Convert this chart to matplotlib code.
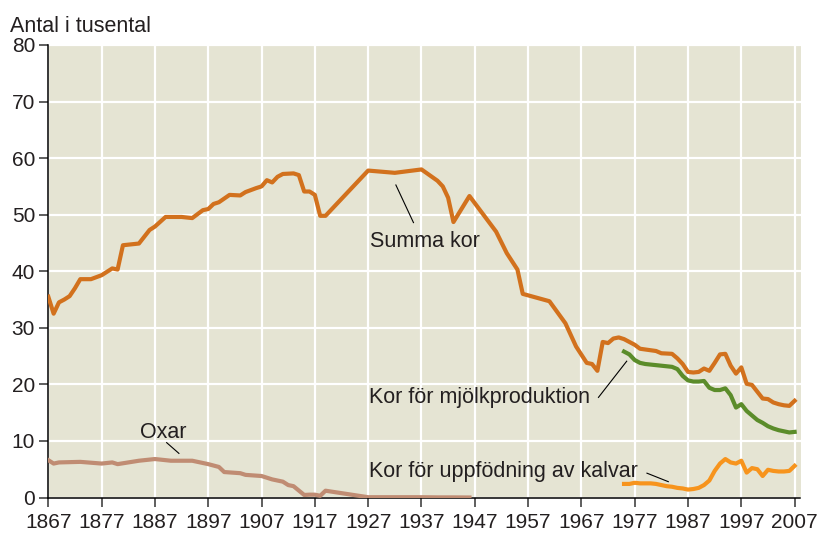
import matplotlib
matplotlib.use("Agg")
import matplotlib.pyplot as plt

plt.rcParams["font.family"] = ["Liberation Sans", "DejaVu Sans"]

# antal djur i tusental
summa_years = [1867, 1868, 1869, 1870, 1871, 1872, 1873, 1875, 1877, 1879, 1880,
               1881, 1884, 1886, 1887, 1889, 1892, 1894, 1896, 1897, 1898, 1899,
               1901, 1903, 1904, 1906, 1907, 1908, 1909, 1910, 1911, 1913, 1914,
               1915, 1916, 1917, 1918, 1919, 1927, 1932, 1937, 1940, 1941, 1942,
               1943, 1946, 1951, 1953, 1955, 1956, 1961, 1964, 1966, 1968, 1969,
               1970, 1971, 1972, 1973, 1974, 1975, 1977, 1978, 1981, 1982, 1984,
               1985, 1986, 1987, 1988, 1989, 1990, 1991, 1992, 1993, 1994, 1995,
               1996, 1997, 1998, 1999, 2000, 2001, 2002, 2003, 2004, 2005, 2006,
               2007]
summa_kor = [35.5, 32.5, 34.5, 35.0, 35.6, 37.0, 38.6, 38.6, 39.3, 40.5, 40.3,
             44.6, 44.9, 47.3, 47.9, 49.6, 49.6, 49.4, 50.8, 51.0, 51.9, 52.2,
             53.5, 53.4, 54.0, 54.7, 55.0, 56.1, 55.7, 56.7, 57.2, 57.3, 57.0,
             54.1, 54.1, 53.5, 49.8, 49.8, 57.8, 57.4, 58.0, 56.0, 55.0, 53.0,
             48.7, 53.3, 47.0, 43.2, 40.3, 36.0, 34.7, 30.8, 26.7, 23.8, 23.6,
             22.4, 27.5, 27.3, 28.1, 28.3, 28.0, 27.0, 26.3, 25.9, 25.5, 25.4,
             24.6, 23.6, 22.2, 22.1, 22.2, 22.8, 22.4, 23.8, 25.3, 25.4, 23.3,
             21.9, 23.0, 20.1, 19.9, 18.7, 17.5, 17.4, 16.8, 16.5, 16.3, 16.2,
             17.1]

mjolk_years = list(range(1975, 2008))
mjolk = [25.8, 25.3, 24.3, 23.8, 23.6, 23.5, 23.4, 23.3, 23.2, 23.1, 22.7,
         21.5, 20.7, 20.5, 20.5, 20.6, 19.4, 19.0, 19.0, 19.3, 18.1, 15.9,
         16.5, 15.3, 14.5, 13.7, 13.2, 12.6, 12.2, 11.9, 11.7, 11.5, 11.6]

kalv_years = list(range(1975, 2008))
kalvar = [2.4, 2.4, 2.6, 2.5, 2.5, 2.5, 2.4, 2.2, 2.0, 1.9, 1.7,
          1.6, 1.4, 1.5, 1.7, 2.2, 3.0, 4.7, 6.0, 6.8, 6.2, 6.0,
          6.5, 4.4, 5.2, 5.0, 3.8, 4.9, 4.7, 4.6, 4.6, 4.7, 5.6]

oxar_years = [1867, 1868, 1869, 1873, 1877, 1879, 1880, 1884, 1887, 1890, 1894,
              1897, 1899, 1900, 1903, 1904, 1907, 1909, 1911, 1912, 1913, 1915,
              1916, 1917, 1918, 1919, 1927, 1932, 1937, 1940, 1943, 1946]
oxar = [6.6, 6.0, 6.2, 6.3, 6.0, 6.2, 5.9, 6.5, 6.8, 6.5, 6.5,
        5.9, 5.4, 4.5, 4.3, 4.0, 3.8, 3.2, 2.8, 2.2, 2.0, 0.45,
        0.5, 0.5, 0.3, 1.2, 0.05, 0.05, 0.05, 0.02, 0.02, 0.0]

x_ticks = list(range(1867, 2008, 10))
y_ticks = list(range(0, 81, 10))

bg = "#E5E4D3"
txt = "#231F20"

fig = plt.figure(figsize=(8.2, 5.34), dpi=100)
ax = fig.add_axes([48.3 / 820, 1 - 497.5 / 534, (800.5 - 48.3) / 820, (497.5 - 45) / 534])
ax.set_facecolor(bg)

ax.plot(oxar_years, oxar, color="#C08C73", lw=3, solid_joinstyle="round", zorder=3)
ax.plot(kalv_years, kalvar, color="#F7941D", lw=3, solid_joinstyle="round", zorder=3)
ax.plot(mjolk_years, mjolk, color="#5B8C2A", lw=3, solid_joinstyle="round", zorder=3)
ax.plot(summa_years, summa_kor, color="#D2711D", lw=3, solid_joinstyle="round", zorder=4)

ax.set_xlim(1867, 2008.1)
ax.set_ylim(0, 80)
ax.set_xticks(x_ticks)
ax.set_yticks(y_ticks)
ax.grid(True, color="white", lw=1.6)
ax.set_axisbelow(True)

for s in ["top", "right"]:
    ax.spines[s].set_visible(False)
for s in ["left", "bottom"]:
    ax.spines[s].set_color("black")
    ax.spines[s].set_linewidth(1.1)
ax.tick_params(axis="both", direction="out", length=6.5, width=1.1, color="#333333",
               labelsize=15, labelcolor=txt)
ax.tick_params(axis="y", pad=3)
ax.tick_params(axis="x", pad=5)

fig.text(10 / 820, 1 - 32 / 534, "Antal i tusental", fontsize=15.5, color=txt, va="baseline")

fs = 15.5
ax.text(1927.4, 44.3, "Summa kor", fontsize=fs, color=txt, va="baseline")
ax.plot([1932.2, 1935.5], [55.25, 48.6], color="black", lw=0.8, zorder=5)
ax.text(1927.2, 16.65, "Kor för mjölkproduktion", fontsize=fs, color=txt, va="baseline")
ax.plot([1970.2, 1975.5], [17.7, 24.1], color="black", lw=0.8, zorder=5)
ax.text(1927.2, 3.7, "Kor för uppfödning av kalvar", fontsize=fs, color=txt, va="baseline")
ax.plot([1979.3, 1983.3], [4.3, 2.8], color="black", lw=0.8, zorder=5)
ax.text(1884.2, 10.5, "Oxar", fontsize=fs, color=txt, va="baseline")
ax.plot([1889.2, 1891.5], [9.7, 7.8], color="black", lw=0.8, zorder=5)

fig.savefig("out.png", dpi=100, facecolor="white")
